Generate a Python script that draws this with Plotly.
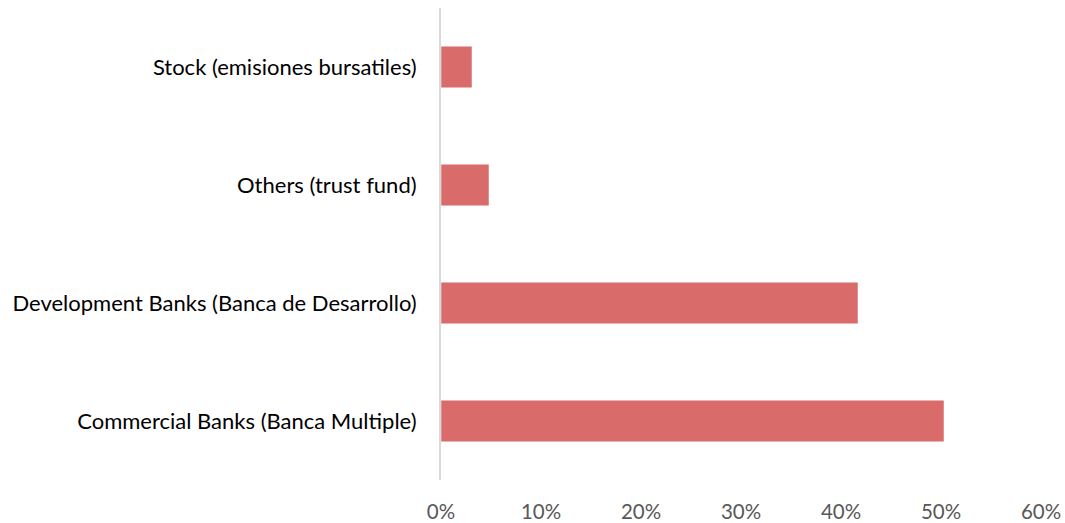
import plotly.graph_objects as go

categories = [
    "Commercial Banks (Banca Multiple)",
    "Development Banks (Banca de Desarrollo)",
    "Others (trust fund)",
    "Stock (emisiones bursatiles)",
]
values = [0.503, 0.417, 0.048, 0.031]
tick_vals = [0, 0.1, 0.2, 0.3, 0.4, 0.5, 0.6]
tick_text = ["0%", "10%", "20%", "30%", "40%", "50%", "60%"]

FONT = "Lato, Carlito, Calibri, sans-serif"

fig = go.Figure(go.Bar(
    x=values,
    y=categories,
    orientation="h",
    marker=dict(color="#D96B6A", line=dict(color="rgba(255,255,255,0.5)", width=1)),
    hoverinfo="x+y",
))

fig.update_layout(
    width=1065,
    height=523,
    margin=dict(l=441, r=24, t=8, b=43),
    paper_bgcolor="white",
    plot_bgcolor="white",
    bargap=0.647,
    showlegend=False,
    font=dict(family=FONT, size=22, color="#000000"),
)
fig.update_xaxes(
    range=[0, 0.6],
    tickvals=tick_vals,
    ticktext=tick_text,
    showgrid=False,
    zeroline=False,
    showline=False,
    ticks="",
    tickfont=dict(family=FONT, size=20.5, color="#595959"),
    ticklabelstandoff=17,
    automargin=False,
)
fig.update_yaxes(
    categoryorder="array",
    categoryarray=categories,
    showgrid=False,
    zeroline=False,
    showline=True,
    linecolor="#D9D9D9",
    linewidth=2,
    ticks="",
    tickfont=dict(family=FONT, size=22, color="#000000"),
    ticklabelstandoff=18,
    automargin=False,
)

fig.write_html("out.html")
